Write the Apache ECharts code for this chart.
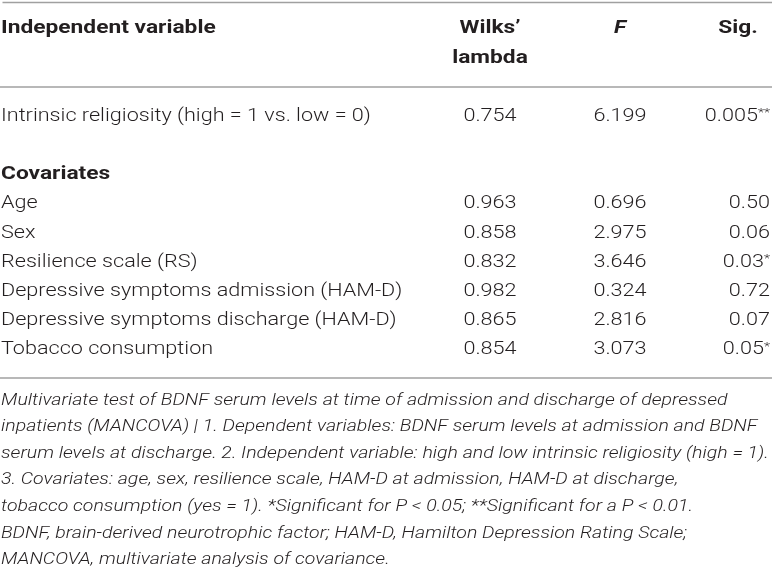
<!DOCTYPE html>
<html>
<head>
<meta charset="utf-8">
<script src="https://cdn.jsdelivr.net/npm/echarts@6/dist/echarts.min.js"></script>
<style>html,body{margin:0;padding:0;background:#fff}#c{width:772px;height:581px}</style>
</head>
<body>
<div id="c"></div>
<script>
// ---- data ----
const variables = ['Intrinsic religiosity (high = 1 vs. low = 0)', 'Age', 'Sex', 'Resilience scale (RS)',
  'Depressive symptoms admission (HAM-D)', 'Depressive symptoms discharge (HAM-D)', 'Tobacco consumption'];
const wilksLambda = [0.754, 0.963, 0.858, 0.832, 0.982, 0.865, 0.854];
const fValues = [6.199, 0.696, 2.975, 3.646, 0.324, 2.816, 3.073];
const sigValues = ['0.005', '0.50', '0.06', '0.03', '0.72', '0.07', '0.05'];
const sigMarks = ['**', '', '', '*', '', '', '*'];
const headerLabel = 'Independent variable';
const headerWilks = ['Wilks\u2019', 'lambda'];
const headerF = 'F';
const headerSig = 'Sig.';
const groupLabel = 'Covariates';
const captionLines = [
  'Multivariate test of BDNF serum levels at time of admission and discharge of depressed',
  'inpatients (MANCOVA) | 1. Dependent variables: BDNF serum levels at admission and BDNF',
  'serum levels at discharge. 2. Independent variable: high and low intrinsic religiosity (high = 1).',
  '3. Covariates: age, sex, resilience scale, HAM-D at admission, HAM-D at discharge,',
  'tobacco consumption (yes = 1). *Significant for P < 0.05; **Significant for a P < 0.01.',
  'BDNF, brain-derived neurotrophic factor; HAM-D, Hamilton Depression Rating Scale;',
  'MANCOVA, multivariate analysis of covariance.'
];

// ---- layout ----
const rowSlots = ['h1', 'h2', 'rule1', 'intr', 'gap', 'cov', 'age', 'sex', 'rs', 'hamA', 'hamD', 'tob', 'rule2'];
const dataRowSlots = ['intr', 'age', 'sex', 'rs', 'hamA', 'hamD', 'tob'];
const colX = { label: 1, wilks: 490, f: 620, sig: 770, sigHead: 738 };
const FONT = 'Roboto, "Liberation Sans", sans-serif';
const INK = '#231f20';
const RULE = '#a0a0a0';
const SIZE = 17.5;
const BODY = { font: '300 ' + SIZE + 'px ' + FONT, sx: 1.235 };
const BOLD = { font: 'bold ' + SIZE + 'px ' + FONT, sx: 1.3 };
const BOLDIT = { font: 'italic bold ' + SIZE + 'px ' + FONT, sx: 1.3 };

const chart = echarts.init(document.getElementById('c'), null, { renderer: 'canvas' });

function cellSeries(name, cells, fmt, align, rich) {
  return {
    type: 'custom', name, silent: true, animation: false,
    data: cells.map(c => [c[0], c[1]]),
    encode: { x: 0, y: 1 },
    renderItem: function (params, api) {
      const pt = api.coord([api.value(0), api.value(1)]);
      const txt = cells[params.dataIndex][2];
      const style = { text: txt, fill: INK, font: fmt.font, align: align, verticalAlign: 'middle' };
      if (rich) style.rich = rich;
      return { type: 'text', x: pt[0], y: pt[1] + 1, scaleX: fmt.sx, style: style };
    }
  };
}

const sigRich = {
  n: { fontFamily: FONT, fontSize: SIZE, fontWeight: 300, fill: INK },
  s: { fontFamily: FONT, fontSize: 11.5, fontWeight: 300, fill: INK, verticalAlign: 'top', padding: [0, 0, 6, 0] }
};

const series = [
  cellSeries('labels', variables.map((v, i) => [colX.label, dataRowSlots[i], v]), BODY, 'left'),
  cellSeries('wilks', wilksLambda.map((v, i) => [colX.wilks, dataRowSlots[i], v.toFixed(3)]), BODY, 'center'),
  cellSeries('f', fValues.map((v, i) => [colX.f, dataRowSlots[i], v.toFixed(3)]), BODY, 'center'),
  cellSeries('sig', sigValues.map((v, i) => [colX.sig, dataRowSlots[i],
    '{n|' + v + '}' + (sigMarks[i] ? '{s|' + sigMarks[i] + '}' : '')]), BODY, 'right', sigRich),
  cellSeries('headL', [[colX.label, 'h1', headerLabel], [colX.label, 'cov', groupLabel]], BOLD, 'left'),
  cellSeries('headW', [[colX.wilks, 'h1', headerWilks[0]], [colX.wilks, 'h2', headerWilks[1]]], BOLD, 'center'),
  cellSeries('headF', [[colX.f, 'h1', headerF]], BOLDIT, 'center'),
  cellSeries('headS', [[colX.sigHead, 'h1', headerSig]], BOLD, 'center'),
  {
    type: 'line', data: [], silent: true, animation: false,
    markLine: {
      symbol: 'none', silent: true, label: { show: false },
      lineStyle: { color: RULE, width: 1.5, type: 'solid' },
      data: [{ yAxis: 'rule1' }, { yAxis: 'rule2' }]
    }
  }
];

const slotH = 29.18;
const gridTop = 28 - slotH / 2;

chart.setOption({
  animation: false,
  grid: { left: 0, right: 0, top: gridTop, height: slotH * rowSlots.length, containLabel: false },
  xAxis: { type: 'value', min: 0, max: 772, show: false },
  yAxis: { type: 'category', data: rowSlots, inverse: true, show: false },
  graphic: [
    { type: 'line', left: 0, top: 0, shape: { x1: 0, y1: 1, x2: 772, y2: 1 }, style: { stroke: RULE, lineWidth: 1.5 } },
    {
      type: 'text', x: 1, y: 387, scaleX: 1.13,
      style: {
        text: captionLines.join('\n'), fill: INK, font: 'italic 300 17.3px ' + FONT,
        lineHeight: 26.6
      }
    }
  ],
  series
});
</script>
</body>
</html>
